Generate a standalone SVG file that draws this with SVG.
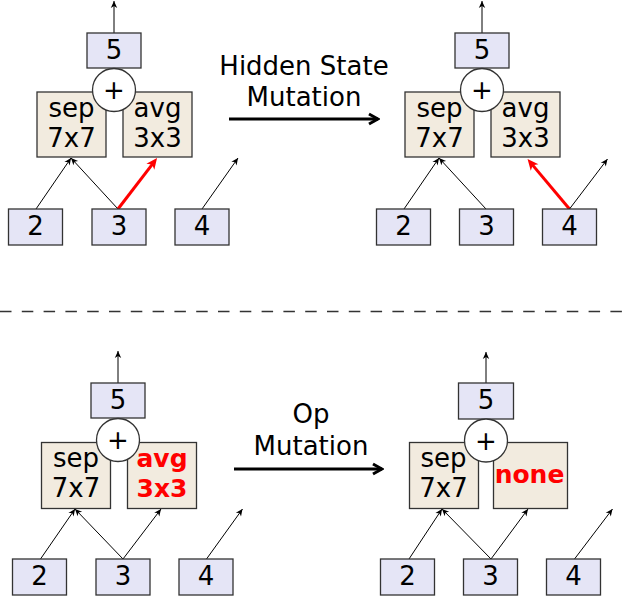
<svg xmlns="http://www.w3.org/2000/svg" width="622" height="597" viewBox="0 0 622 597">
<style>
.st{fill:#e5e5f6;stroke:#333;stroke-width:1.3}
.op{fill:#f2ebdf;stroke:#333;stroke-width:1.3}
.add{fill:#fff;stroke:#333;stroke-width:1.3}
text{font-family:"DejaVu Sans","Liberation Sans",sans-serif;font-size:26px;fill:#000;text-anchor:middle}
.red{fill:#f00;font-weight:bold;font-size:25px}
.e{stroke:#000;stroke-width:1;fill:none;marker-end:url(#ah)}
.er{stroke:#f00;stroke-width:3;fill:none;marker-end:url(#ahr)}
.big{stroke:#000;stroke-width:3;fill:none;marker-end:url(#ahb)}
</style>
<defs>
<marker id="ah" markerUnits="userSpaceOnUse" viewBox="-10 -5 12 10" refX="0" refY="0" markerWidth="12" markerHeight="10" orient="auto">
<path d="M-7,-3.2 L0,0 L-7,3.2 L-5,0 z" fill="#000"/>
</marker>
<marker id="ahr" markerUnits="userSpaceOnUse" viewBox="-8 -7 16 14" refX="0" refY="0" markerWidth="16" markerHeight="14" orient="auto">
<path d="M-5,-5 L6,0 L-5,5 L-2,0 z" fill="#f00"/>
</marker>
<marker id="ahb" markerUnits="userSpaceOnUse" viewBox="-12 -8 14 16" refX="0" refY="0" markerWidth="14" markerHeight="16" orient="auto">
<path d="M-9,-5 L0,0 L-9,5" fill="none" stroke="#000" stroke-width="3"/>
</marker>
</defs>

<line x1="0" y1="311.5" x2="622" y2="311.5" stroke="#333" stroke-width="1.5" stroke-dasharray="11.5 10.3"/>

<g id="mutation-labels">
<text x="304" y="75">Hidden State</text>
<text x="304" y="106">Mutation</text>
<text x="311" y="423">Op</text>
<text x="311" y="455">Mutation</text>
</g>
<g id="mutation-arrows">
<line class="big" x1="229" y1="119" x2="378" y2="119"/>
<line class="big" x1="234" y1="469" x2="382" y2="469"/>
</g>

<g id="panel-tl">
<g id="tl-edges">
<line class="e" x1="114" y1="33" x2="114" y2="1"/>
<line class="e" x1="36" y1="209" x2="71" y2="158"/>
<line class="e" x1="118" y1="209" x2="71" y2="158"/>
<line class="er" x1="118" y1="209" x2="153.4" y2="162.8"/>
<line class="e" x1="202" y1="209" x2="238" y2="158"/>
</g>
<g id="tl-n5"><rect class="st" x="87" y="33" width="54" height="35"/><text x="114" y="59">5</text></g>
<g id="tl-sep"><rect class="op" x="37" y="92" width="69" height="65"/><text x="71.5" y="117">sep</text><text x="71.5" y="147">7x7</text></g>
<g id="tl-avg"><rect class="op" x="123" y="92" width="69" height="65"/><text x="157.5" y="117">avg</text><text x="157.5" y="147">3x3</text></g>
<g id="tl-add"><circle class="add" cx="114" cy="90" r="21.5"/><text x="114" y="99">+</text></g>
<g id="tl-n2"><rect class="st" x="8.5" y="209" width="54" height="36"/><text x="35.5" y="235">2</text></g>
<g id="tl-n3"><rect class="st" x="92" y="209" width="54" height="36"/><text x="119" y="235">3</text></g>
<g id="tl-n4"><rect class="st" x="175" y="209" width="54" height="36"/><text x="202" y="235">4</text></g>
</g>

<g id="panel-tr" transform="translate(368,0)">
<g id="tr-edges">
<line class="e" x1="114" y1="33" x2="114" y2="1"/>
<line class="e" x1="36" y1="209" x2="71" y2="158"/>
<line class="e" x1="118" y1="209" x2="71" y2="158"/>
<line class="er" x1="201.5" y1="209" x2="163.4" y2="163.6"/>
<line class="e" x1="201.5" y1="209" x2="239.5" y2="159"/>
</g>
<g id="tr-n5"><rect class="st" x="87" y="33" width="54" height="35"/><text x="114" y="59">5</text></g>
<g id="tr-sep"><rect class="op" x="37" y="92" width="69" height="65"/><text x="71.5" y="117">sep</text><text x="71.5" y="147">7x7</text></g>
<g id="tr-avg"><rect class="op" x="123" y="92" width="69" height="65"/><text x="157.5" y="117">avg</text><text x="157.5" y="147">3x3</text></g>
<g id="tr-add"><circle class="add" cx="114" cy="90" r="21.5"/><text x="114" y="99">+</text></g>
<g id="tr-n2"><rect class="st" x="8.5" y="209" width="54" height="36"/><text x="35.5" y="235">2</text></g>
<g id="tr-n3"><rect class="st" x="91.5" y="209" width="54" height="36"/><text x="118.5" y="235">3</text></g>
<g id="tr-n4"><rect class="st" x="174.5" y="209" width="54" height="36"/><text x="201.5" y="235">4</text></g>
</g>

<g id="panel-bl" transform="translate(4,350)">
<g id="bl-edges">
<line class="e" x1="114" y1="33" x2="114" y2="1"/>
<line class="e" x1="36.5" y1="209" x2="71" y2="159"/>
<line class="e" x1="119" y1="209" x2="71" y2="159"/>
<line class="e" x1="119" y1="209" x2="157" y2="159"/>
<line class="e" x1="202.5" y1="209" x2="238.5" y2="159"/>
</g>
<g id="bl-n5"><rect class="st" x="87" y="33" width="54" height="35"/><text x="114" y="59">5</text></g>
<g id="bl-sep"><rect class="op" x="37.5" y="92.5" width="69" height="66"/><text x="72" y="117">sep</text><text x="72" y="147">7x7</text></g>
<g id="bl-avg"><rect class="op" x="123.5" y="92.5" width="69" height="66"/><text class="red" x="158" y="117">avg</text><text class="red" x="158" y="147">3x3</text></g>
<g id="bl-add"><circle class="add" cx="114" cy="90" r="21.5"/><text x="114" y="99">+</text></g>
<g id="bl-n2"><rect class="st" x="8.5" y="209" width="54" height="36"/><text x="35.5" y="235">2</text></g>
<g id="bl-n3"><rect class="st" x="92" y="209" width="54" height="36"/><text x="119" y="235">3</text></g>
<g id="bl-n4"><rect class="st" x="175" y="209" width="54" height="36"/><text x="202" y="235">4</text></g>
</g>

<g id="panel-br" transform="translate(372,350)">
<g id="br-edges">
<line class="e" x1="114" y1="33" x2="114" y2="2"/>
<line class="e" x1="37" y1="209" x2="70" y2="159"/>
<line class="e" x1="119" y1="209" x2="70" y2="159"/>
<line class="e" x1="119" y1="209" x2="156" y2="159"/>
<line class="e" x1="202.5" y1="209" x2="240.5" y2="159"/>
</g>
<g id="br-n5"><rect class="st" x="86.5" y="33" width="55" height="36"/><text x="114" y="59">5</text></g>
<g id="br-sep"><rect class="op" x="37.5" y="92.5" width="69" height="66"/><text x="71.5" y="117">sep</text><text x="71.5" y="147">7x7</text></g>
<g id="br-none"><rect class="op" x="121.5" y="92.5" width="74" height="66"/><text class="red" x="157.5" y="132.5">none</text></g>
<g id="br-add"><circle class="add" cx="114" cy="90.5" r="21.5"/><text x="114" y="99.5">+</text></g>
<g id="br-n2"><rect class="st" x="8.5" y="209" width="54" height="36"/><text x="35.5" y="235">2</text></g>
<g id="br-n3"><rect class="st" x="91.5" y="209" width="54" height="36"/><text x="118.5" y="235">3</text></g>
<g id="br-n4"><rect class="st" x="174.5" y="209" width="54" height="36"/><text x="201.5" y="235">4</text></g>
</g>
</svg>
